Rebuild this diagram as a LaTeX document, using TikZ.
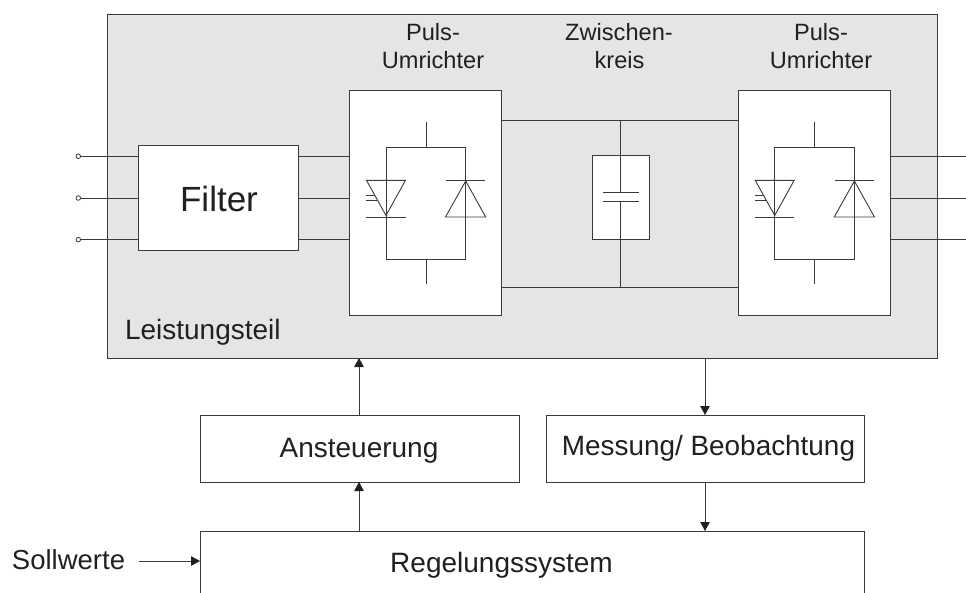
\documentclass[tikz,border=0pt]{standalone}
\usepackage{fontspec}
\setmainfont{Liberation Sans}
\usetikzlibrary{arrows.meta}
\definecolor{ln}{HTML}{3A3A3C}
\definecolor{txt}{HTML}{231F20}
\definecolor{panelc}{HTML}{E4E5E7}
\newcommand{\fs}[1]{\fontsize{#1pt}{#1pt}\selectfont}
\tikzset{
  x=1pt,y=-1pt,
  wire/.style={draw=ln,line width=0.95pt},
  thin wire/.style={draw=ln,line width=0.9pt},
  box/.style={draw=ln,line width=0.95pt,fill=white,inner sep=0pt,outer sep=0pt,text=txt},
  lbl/.style={inner sep=0pt,outer sep=0pt,text=txt,anchor=base},
  port/.style={circle,draw=ln,line width=0.8pt,fill=white,minimum size=4.6pt,inner sep=0pt,outer sep=0pt},
  flow/.style={wire,-{Triangle[length=9pt,width=9.5pt,color=txt]},shorten >=0pt},
}
\newcommand{\bridge}[1]{%
  \begin{scope}[shift={(#1,0)}]
    \draw[thin wire] (0,122) -- (0,147);
    \draw[thin wire] (0,259.5) -- (0,284);
    \draw[thin wire] (-40,147) rectangle (39.7,259.5);
    \draw[thin wire] (-59.5,180.3) -- (-20.5,180.3) -- (-40,215.5) -- cycle;
    \draw[thin wire] (-60,217) -- (-20.5,217);
    \draw[thin wire] (-60,195.3) -- (-51,195.3);
    \draw[thin wire] (-60,200) -- (-49,200);
    \draw[thin wire] (20,180.7) -- (59,180.7);
    \draw[thin wire] (19.5,217) -- (59.7,217) -- (39.7,181) -- cycle;
  \end{scope}}
\begin{document}
\begin{tikzpicture}
\useasboundingbox (0,0) rectangle (966,592);
\clip (0,0) rectangle (966,592);
% power section
\node[box,fill=panelc,minimum width=830pt,minimum height=344pt] (panel) at (522,186) {};
% external connection points
\node[port] (p1) at (78.3,156.3) {};
\node[port] (p2) at (78.3,198) {};
\node[port] (p3) at (78.3,239.6) {};
\coordinate (r1) at (966,156.3);
\coordinate (r2) at (966,198);
\coordinate (r3) at (966,239.6);
% boxes
\node[box,minimum width=160pt,minimum height=105pt] (filter) at (218,197.5) {};
\node[lbl,font=\fs{35}] (ft) at (219,211) {Filter};
\node[box,minimum width=152pt,minimum height=225pt] (pu1) at (425,202.5) {};
\node[box,minimum width=152pt,minimum height=225pt] (pu2) at (814,202.5) {};
\node[box,minimum width=57pt,minimum height=84pt] (cap) at (620.5,197) {};
\draw[wire] (p1) -- (filter.west |- p1);
\draw[wire] (p2) -- (filter.west |- p2);
\draw[wire] (p3) -- (filter.west |- p3);
\draw[wire] (filter.east |- p1) -- (pu1.west |- p1);
\draw[wire] (filter.east |- p2) -- (pu1.west |- p2);
\draw[wire] (filter.east |- p3) -- (pu1.west |- p3);
\draw[wire] (pu2.east |- r1) -- (r1);
\draw[wire] (pu2.east |- r2) -- (r2);
\draw[wire] (pu2.east |- r3) -- (r3);
% DC link
\coordinate (dt) at (620.5,120.5);
\coordinate (db) at (620.5,287.5);
\coordinate (pa) at (620.5,192.8);
\coordinate (pb) at (620.5,201.8);
\draw[wire] (pu1.east |- dt) -- (pu2.west |- dt);
\draw[wire] (pu1.east |- db) -- (pu2.west |- db);
\draw[wire] (dt) -- (pa);
\draw[wire] (pb) -- (db);
\draw[wire] (603,192.8) -- (639,192.8);
\draw[wire] (603,201.8) -- (639,201.8);
\bridge{426}
\bridge{814.7}
% headings
\node[lbl,font=\fs{23.6}] (h1a) at (433,40) {Puls-};
\node[lbl,font=\fs{23.6}] (h1b) at (433,68) {Umrichter};
\node[lbl,font=\fs{23.6}] (h2a) at (619,40) {Zwischen-};
\node[lbl,font=\fs{23.6}] (h2b) at (619.5,68) {kreis};
\node[lbl,font=\fs{23.6}] (h3a) at (821,40) {Puls-};
\node[lbl,font=\fs{23.6}] (h3b) at (821,68) {Umrichter};
\node[lbl,font=\fs{28},anchor=base west] (lt) at (125,339.5) {Leistungsteil};
% lower blocks
\node[box,minimum width=319pt,minimum height=67pt] (an) at (359.5,448.5) {};
\node[lbl,font=\fs{28}] (ant) at (359,457) {Ansteuerung};
\node[box,minimum width=318pt,minimum height=67pt] (me) at (705,448.5) {};
\node[lbl,font=\fs{27.9}] (met) at (708.5,455) {Messung/ Beobachtung};
\node[box,minimum width=664pt,minimum height=90pt] (re) at (532,576) {};
\node[lbl,font=\fs{28}] (ret) at (501.5,572) {Regelungssystem};
\node[lbl,font=\fs{27.5},anchor=base west] (so) at (12,569) {Sollwerte};
\coordinate (sa) at (139,561);
\draw[flow] (359,531) -- (359,482);
\draw[flow] (359,415) -- (359,358);
\draw[flow] (705,358) -- (705,415);
\draw[flow] (705,482) -- (705,531);
\draw[flow] (sa) -- (re.west |- sa);
\end{tikzpicture}
\end{document}
